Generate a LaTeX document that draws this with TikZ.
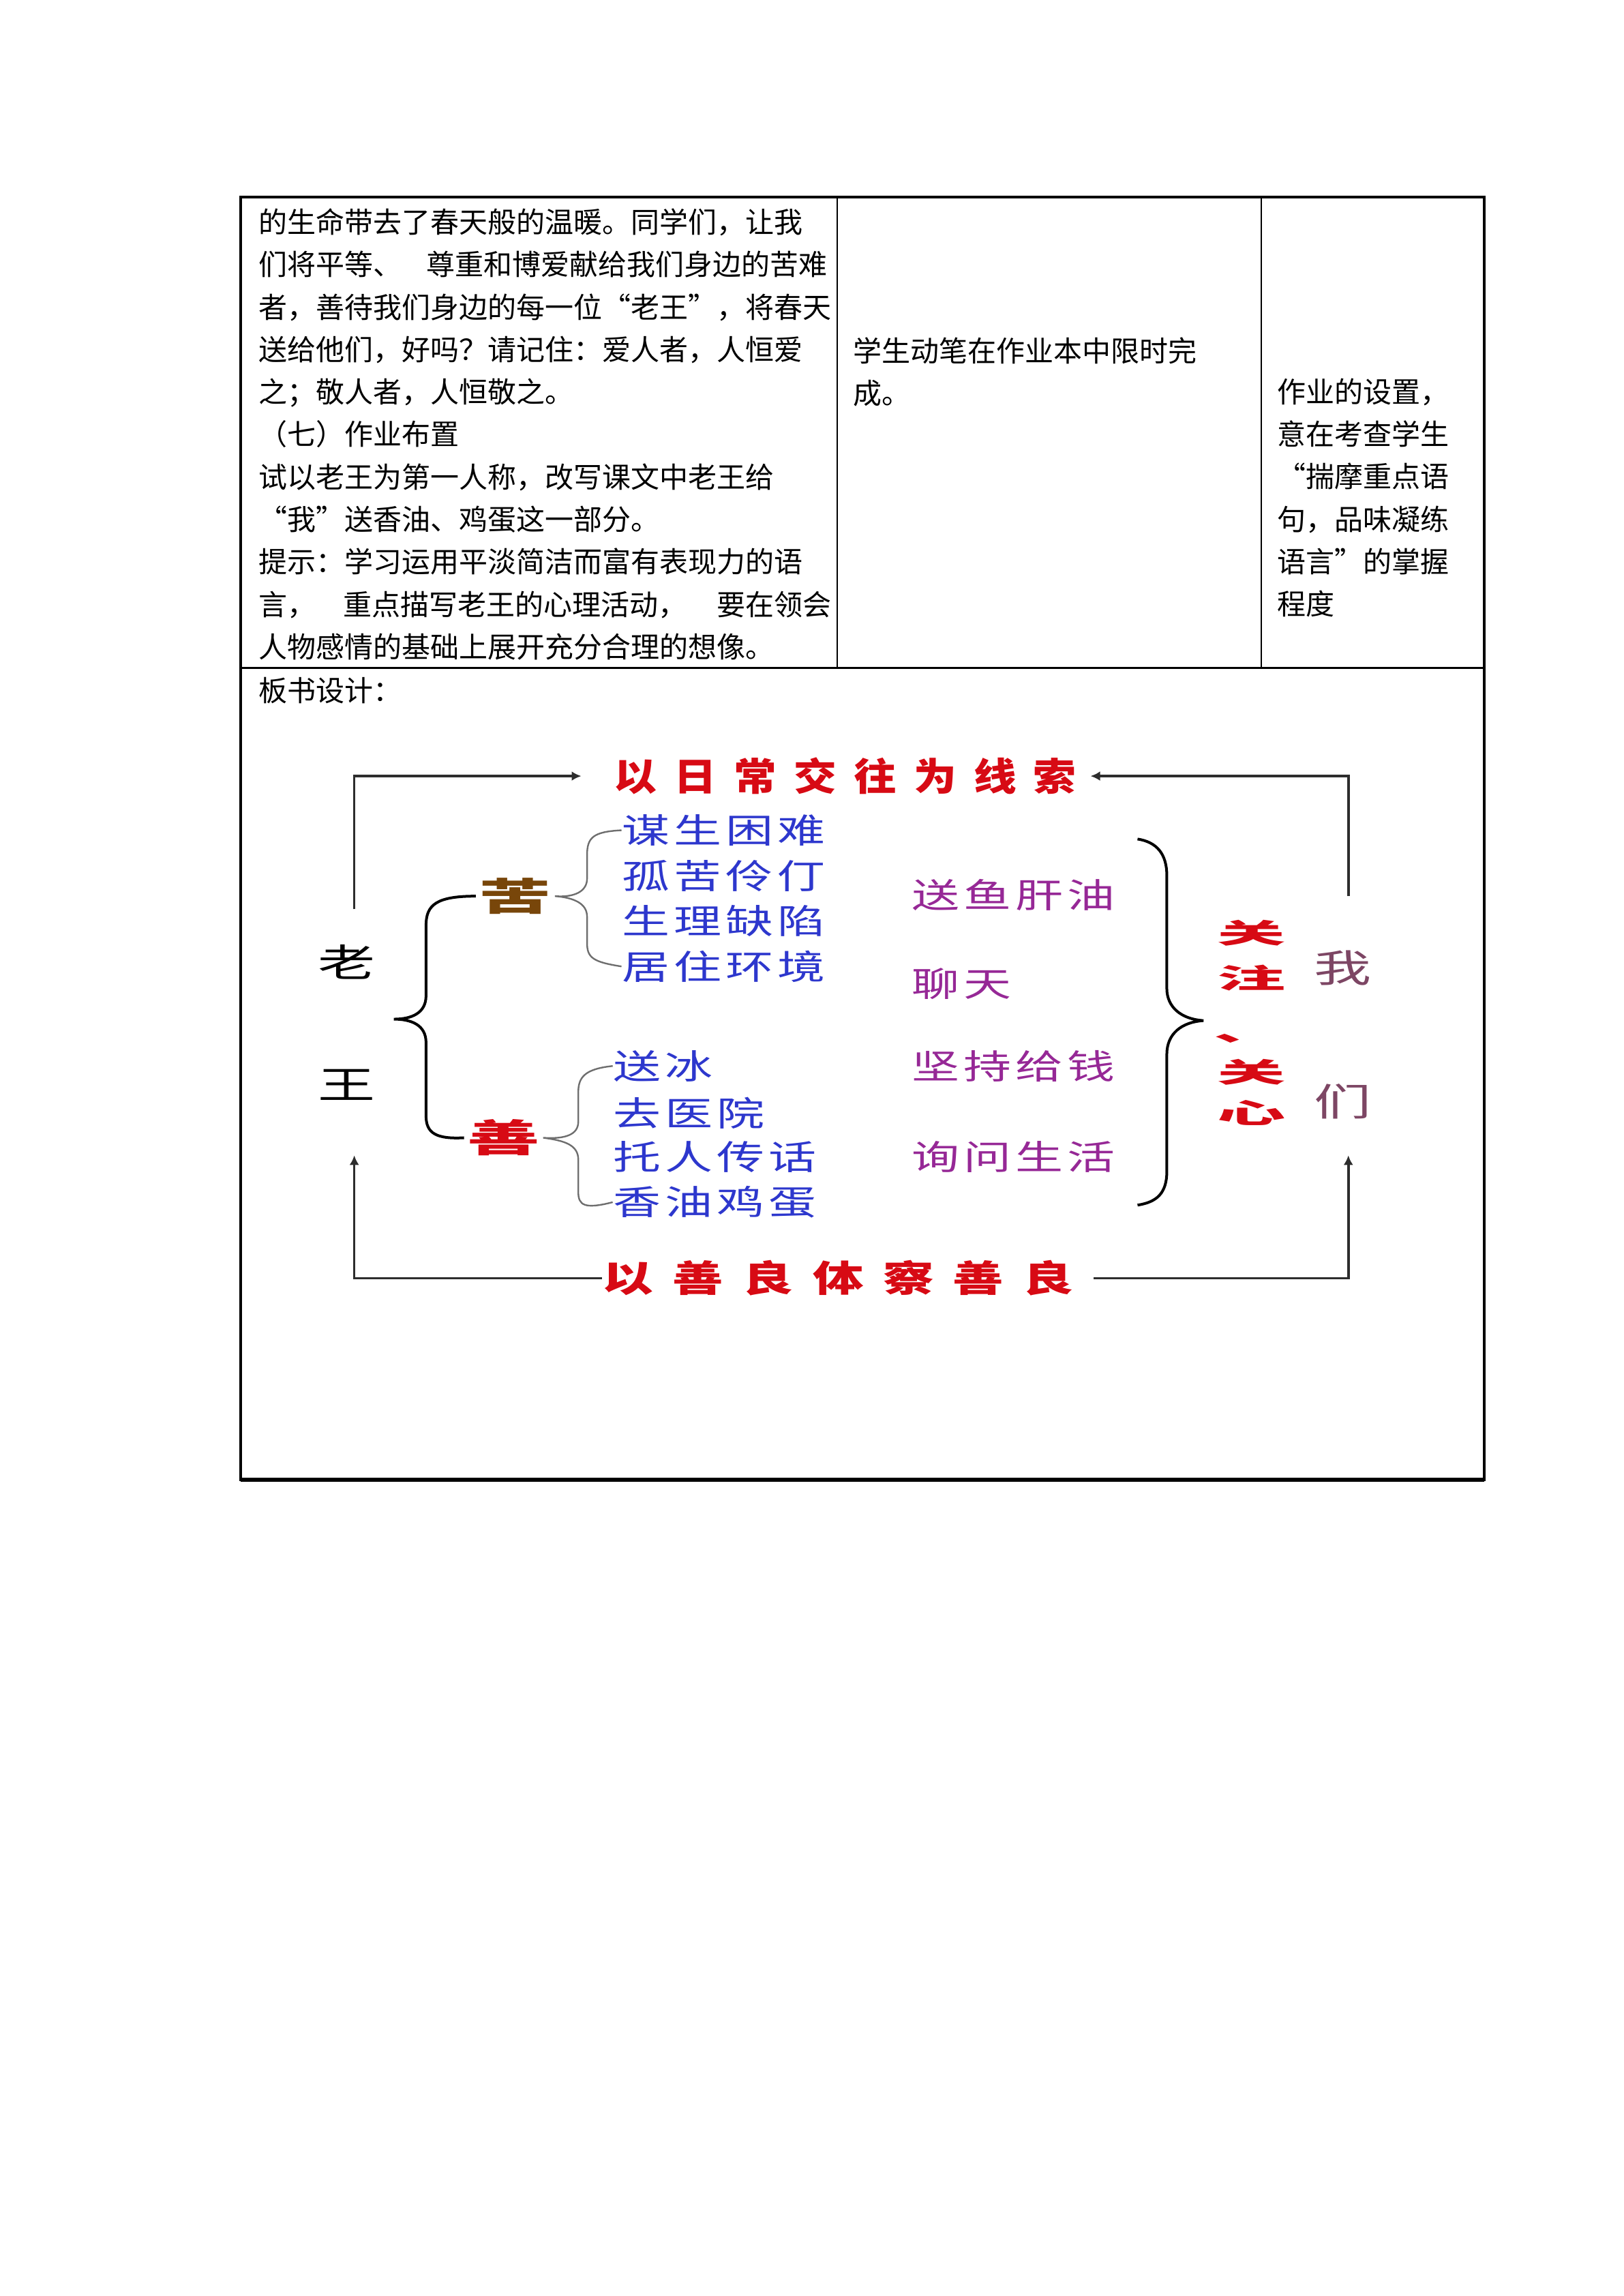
\documentclass[tikz,border=0pt]{standalone}
\usepackage{fontspec}
\setmainfont{Noto Sans CJK SC}
\newfontfamily\itemfont[FakeStretch=1.4,LetterSpace=12]{Noto Sans CJK SC}
\newfontfamily\keyfont[FakeStretch=1.9]{Noto Sans CJK SC}
\newfontfamily\namefont[FakeStretch=1.5]{Noto Sans CJK SC}
\newfontfamily\carefont[FakeStretch=2.5]{Noto Sans CJK SC}
\newfontfamily\cluetopfont[FakeStretch=1.12,LetterSpace=45]{Noto Sans CJK SC}
\newfontfamily\cluebotfont[FakeStretch=1.39,LetterSpace=53]{Noto Sans CJK SC}
\usetikzlibrary{arrows.meta}
\definecolor{ItemBlue}{RGB}{45,55,205}
\definecolor{CarePurple}{RGB}{150,40,150}
\definecolor{ClueRed}{RGB}{215,10,20}
\definecolor{KuBrown}{RGB}{120,70,10}
\definecolor{WeMauve}{RGB}{125,70,100}
\definecolor{LineGray}{RGB}{45,45,45}
\definecolor{BraceGray}{RGB}{110,110,110}

\begin{document}
\begin{tikzpicture}[
    x=0.5368pt, y=-0.5368pt,
    cell/.style={inner sep=0pt, anchor=north west, align=left, font=\fontsize{10.5}{15.57}\selectfont},
    tableframe/.style={line width=1pt},
    tablerule/.style={line width=0.6pt},
    hard/.style={anchor=west, inner sep=0pt, text=ItemBlue, font=\itemfont\fontsize{12.5}{15}\selectfont},
    deed/.style={anchor=west, inner sep=0pt, text=CarePurple, font=\itemfont\fontsize{12.5}{15}\selectfont},
    keyword/.style={inner sep=1pt, font=\keyfont\bfseries\fontsize{14}{16}\selectfont},
    person/.style={inner sep=0pt, font=\namefont\fontsize{14}{16}\selectfont},
    care/.style={inner sep=0pt, align=center, text=ClueRed, font=\carefont\bfseries\fontsize{10}{16.6}\selectfont},
    clue/.style={inner sep=0pt, anchor=west, text=ClueRed},
    arrow/.style={-{Latex[length=3.5pt,width=3.5pt]}, line width=0.9pt, draw=LineGray},
    brace/.style={line width=1pt},
    subbrace/.style={line width=0.6pt, draw=BraceGray}
]
\useasboundingbox (0,0) rectangle (1109,1568);

% table
\draw[tableframe] (164.4,134.8) rectangle (1013.8,1010.5);
\draw[tablerule] (164.4,456.2) -- (1013.8,456.2);
\draw[tablerule] (572,134.8) -- (572,456.2);
\draw[tablerule] (861.4,134.8) -- (861.4,456.2);
\draw[line width=1.6pt] (164.4,1010.5) -- (1013.8,1010.5);

\node[cell] (lefttext) at (176.5,142) {的生命带去了春天般的温暖。同学们，让我\\
们将平等、\hspace{9pt}尊重和博爱献给我们身边的苦难\\
者，善待我们身边的每一位“老王”，将春天\\
送给他们，好吗？请记住：爱人者，人恒爱\\
之；敬人者，人恒敬之。\\
（七）作业布置\\
试以老王为第一人称，改写课文中老王给\\
“我”送香油、鸡蛋这一部分。\\
提示：学习运用平淡简洁而富有表现力的语\\
言，\hspace{10pt}重点描写老王的心理活动，\hspace{11pt}要在领会\\
人物感情的基础上展开充分合理的想像。};
\node[cell] (midtext) at (582.6,230) {学生动笔在作业本中限时完\\成。};
\node[cell] (righttext) at (872,258) {作业的设置，\\意在考查学生\\“揣摩重点语\\句，品味凝练\\语言”的掌握\\程度};
\node[cell] (boardtitle) at (176.5,462) {板书设计：};

% board design
\node[person] (lao) at (237,657) {老};
\node[person] (wang) at (237,741) {王};
\node[keyword, text=KuBrown] (ku) at (352,612) {苦};
\node[keyword, text=ClueRed] (shan) at (344,777) {善};

\node[hard] (k1) at (424.5,567) {谋生困难};
\node[hard] (k2) at (424.5,598) {孤苦伶仃};
\node[hard] (k3) at (424.5,629) {生理缺陷};
\node[hard] (k4) at (424.5,660) {居住环境};
\node[hard] (s1) at (418.5,728) {送冰};
\node[hard] (s2) at (418.5,760) {去医院};
\node[hard] (s3) at (418.5,790) {托人传话};
\node[hard] (s4) at (418.5,821) {香油鸡蛋};

\node[deed] (p1) at (622.5,611) {送鱼肝油};
\node[deed] (p2) at (622.5,672) {聊天};
\node[deed] (p3) at (622.5,728) {坚持给钱};
\node[deed] (p4) at (622.5,790) {询问生活};

\node[care] (guanzhu) at (855,652.5) {关\\注};
\node[care, anchor=base west] (dun) at (829,711) {、};
\node[care, font=\carefont\bfseries\fontsize{10}{15}\selectfont] (guanxin) at (855,746) {关\\心};
\node[person, text=WeMauve] (wo) at (917,661) {我};
\node[person, text=WeMauve] (men) at (917,752) {们};

\node[clue, font=\cluetopfont\bfseries\fontsize{14}{16}\selectfont] (topclue) at (419,530) {以日常交往为线索};
\node[clue, font=\cluebotfont\bfseries\fontsize{13.4}{16}\selectfont] (botclue) at (411,873) {以善良体察善良};

\coordinate (tlfoot) at (242,621);
\coordinate (trfoot) at (921,612);
\coordinate (blhead) at (242,789);
\coordinate (brhead) at (921,789);
\draw[arrow, shorten >=11.8pt] (tlfoot) |- (topclue.west);
\draw[arrow, shorten >=5pt] (trfoot) |- (topclue.east);
\draw[arrow] (botclue.west) -| (blhead);
\draw[arrow, shorten <=7pt] (botclue.east) -| (brhead);

% braces
\draw[brace] (ku.west) .. controls (298,612) and (291,618) .. (291,632) -- (291,680)
  .. controls (291,692) and (281,696) .. (269,696)
  .. controls (281,696) and (291,700) .. (291,712) -- (291,762)
  .. controls (291,774) and (298,778) .. (shan.west);
\draw[subbrace] (k1.west) .. controls (405,568) and (401,572) .. (401,584) -- (401,600)
  .. controls (401,609) and (392,613) .. (ku.east)
  .. controls (392,613) and (401,617) .. (401,626) -- (401,644)
  .. controls (401,654) and (405,657) .. (k4.west);
\draw[subbrace] (s1.west) .. controls (399,730) and (395,736) .. (395,746) -- (395,766)
  .. controls (395,775) and (386,778) .. (shan.east)
  .. controls (386,779) and (395,782) .. (395,792) -- (395,814)
  .. controls (395,823) and (399,826) .. (s4.west);
\coordinate (rbtop) at (777,573);
\coordinate (rbtip) at (822,697);
\coordinate (rbbot) at (777,823);
\draw[brace] (rbtop) .. controls (790,575) and (797,583) .. (797,598) -- (797,675)
  .. controls (797,688) and (807,696) .. (rbtip)
  .. controls (807,698) and (797,706) .. (797,720) -- (797,800)
  .. controls (797,815) and (790,821) .. (rbbot);
\end{tikzpicture}
\end{document}
